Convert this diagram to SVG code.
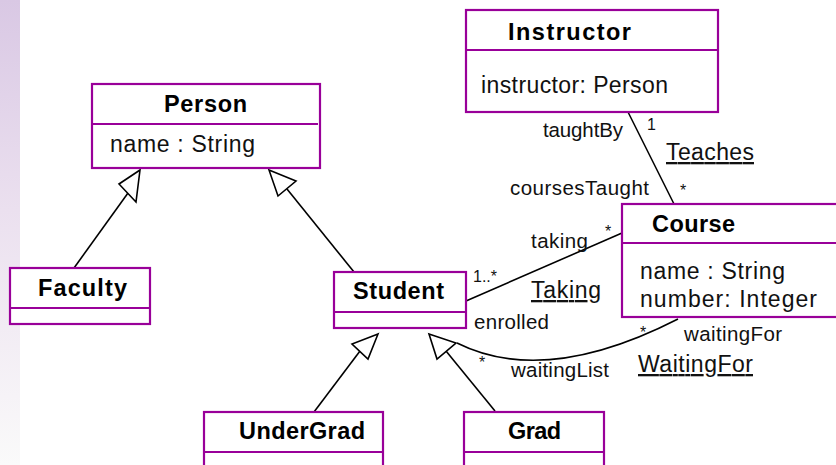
<svg xmlns="http://www.w3.org/2000/svg" width="836" height="465" viewBox="0 0 836 465">
<defs>
<linearGradient id="bar" x1="0" y1="0" x2="0" y2="1">
<stop offset="0" stop-color="#d9c8e4"/>
<stop offset="0.45" stop-color="#ebe0ef"/>
<stop offset="1" stop-color="#fafafa"/>
</linearGradient>
</defs>
<style>
.box{fill:#fff;stroke:#990099;stroke-width:2.2}
.div{stroke:#990099;stroke-width:2.2}
.title{font-family:"Liberation Sans",Arial,sans-serif;font-weight:bold;font-size:23.5px;fill:#000}
.attr{font-family:"Liberation Sans",Arial,sans-serif;font-size:23px;fill:#111}
.role{font-family:"Liberation Sans",Arial,sans-serif;font-size:20.5px;fill:#111}
.assoc{font-family:"Liberation Sans",Arial,sans-serif;font-size:23px;fill:#111;text-decoration:underline}
.mult{font-family:"Liberation Sans",Arial,sans-serif;font-size:16px;fill:#111}
.ln{fill:none;stroke:#000;stroke-width:1.6}
.head{fill:#fff;stroke:#000;stroke-width:1.6;stroke-linejoin:miter}
</style>
<rect x="0" y="0" width="836" height="465" fill="#fff"/>
<rect x="0" y="0" width="20" height="465" fill="url(#bar)"/>

<g id="connectors">
<line class="ln" x1="74" y1="268" x2="128" y2="193"/>
<polygon class="head" points="140,170 119,184 136,202"/>
<line class="ln" x1="354" y1="272" x2="287" y2="189"/>
<polygon class="head" points="269,170 296,181 278,196"/>
<line class="ln" x1="314" y1="412" x2="360" y2="351"/>
<polygon class="head" points="378,334 352,344 368,359"/>
<line class="ln" x1="495" y1="411" x2="446" y2="351"/>
<polygon class="head" points="429,334 456,343 437,359"/>
<line class="ln" x1="628" y1="112" x2="674" y2="204"/>
<line class="ln" x1="466" y1="301" x2="622" y2="233"/>
<path class="ln" d="M678 319 Q545 387 457 343"/>
<text class="role" x="543" y="137" textLength="80" lengthAdjust="spacing">taughtBy</text>
<text class="mult" x="647" y="130">1</text>
<text class="assoc" x="666" y="160" textLength="88" lengthAdjust="spacing">Teaches</text>
<text class="role" x="510" y="195" textLength="139" lengthAdjust="spacing">coursesTaught</text>
<text class="mult" x="680" y="196">*</text>
<text class="role" x="531" y="248" textLength="57" lengthAdjust="spacing">taking</text>
<text class="mult" x="605" y="237">*</text>
<text class="mult" x="473" y="282">1..*</text>
<text class="assoc" x="531" y="298" textLength="70" lengthAdjust="spacing">Taking</text>
<text class="role" x="474" y="329" textLength="75" lengthAdjust="spacing">enrolled</text>
<text class="mult" x="640" y="338">*</text>
<text class="role" x="684" y="341" textLength="98" lengthAdjust="spacing">waitingFor</text>
<text class="assoc" x="638" y="372" textLength="115" lengthAdjust="spacing">WaitingFor</text>
<text class="mult" x="479" y="368">*</text>
<text class="role" x="511" y="377" textLength="98" lengthAdjust="spacing">waitingList</text>
</g>

<g id="Person">
<rect class="box" x="92" y="84" width="228" height="84"/>
<line class="div" x1="92" y1="124" x2="318" y2="124"/>
<text class="title" x="164" y="112" textLength="83" lengthAdjust="spacing">Person</text>
<text class="attr" x="110" y="152" textLength="145" lengthAdjust="spacing">name : String</text>
</g>

<g id="Instructor">
<rect class="box" x="466" y="10" width="252" height="102"/>
<line class="div" x1="466" y1="50" x2="718" y2="50"/>
<text class="title" x="508" y="40" textLength="123" lengthAdjust="spacing">Instructor</text>
<text class="attr" x="481" y="93" textLength="187" lengthAdjust="spacing">instructor: Person</text>
</g>

<g id="Course">
<rect class="box" x="622" y="204" width="220" height="113"/>
<line class="div" x1="622" y1="243" x2="842" y2="243"/>
<text class="title" x="652" y="232" textLength="83" lengthAdjust="spacing">Course</text>
<text class="attr" x="640" y="279" textLength="145" lengthAdjust="spacing">name : String</text>
<text class="attr" x="640" y="307" textLength="177" lengthAdjust="spacing">number: Integer</text>
</g>

<g id="Faculty">
<rect class="box" x="10" y="268" width="140" height="56"/>
<line class="div" x1="10" y1="308" x2="150" y2="308"/>
<text class="title" x="38" y="296" textLength="89" lengthAdjust="spacing">Faculty</text>
</g>

<g id="Student">
<rect class="box" x="334" y="272" width="132" height="56"/>
<line class="div" x1="334" y1="312" x2="466" y2="312"/>
<text class="title" x="353" y="299" textLength="91" lengthAdjust="spacing">Student</text>
</g>

<g id="UnderGrad">
<rect class="box" x="204" y="412" width="179" height="60"/>
<line class="div" x1="204" y1="452" x2="383" y2="452"/>
<text class="title" x="239" y="439" textLength="126" lengthAdjust="spacing">UnderGrad</text>
</g>

<g id="Grad">
<rect class="box" x="464" y="412" width="140" height="60"/>
<line class="div" x1="464" y1="452" x2="604" y2="452"/>
<text class="title" x="508" y="439" textLength="53" lengthAdjust="spacing">Grad</text>
</g>
</svg>
